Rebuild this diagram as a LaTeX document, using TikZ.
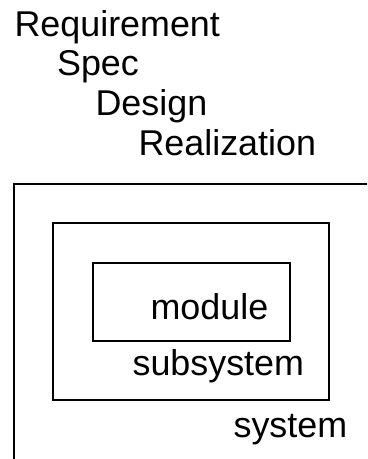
\documentclass[tikz,border=0pt]{standalone}
\usepackage{fontspec}
\setmainfont{Liberation Sans}

\begin{document}
\begin{tikzpicture}[x=1bp, y=-1bp, line width=1.2bp,
	every node/.style={inner sep=0pt, anchor=base west, font=\fontsize{36}{40}\selectfont}]
	\clip (0,0) rectangle (367,459);
	\useasboundingbox (0,0) rectangle (367,459);

	\draw (14,184) rectangle (420,520);
	\draw (53,223) rectangle (329,400);
	\draw (93,263) rectangle (290,341);

	\node (req) at (14,37) {Requirement};
	\node (spec) at (56.5,76) {Spec};
	\node (design) at (95,116) {Design};
	\node (real) at (138,156) {Realization};
	\node (module) at (150,319) {module};
	\node (subsys) at (132,375) {subsystem};
	\node (sys) at (233,437) {system};
\end{tikzpicture}
\end{document}
